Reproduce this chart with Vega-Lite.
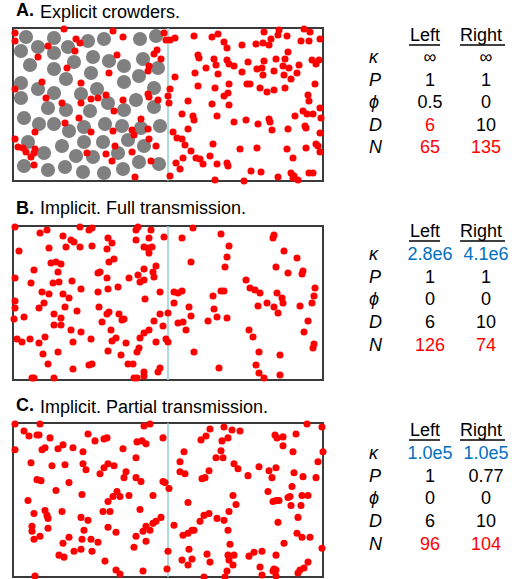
{
"$schema":"https://vega.github.io/schema/vega-lite/v6.json",
"padding":{"left":9,"top":1,"right":0,"bottom":0},
"config":{"font":"Liberation Sans","view":{"stroke":null},"title":{"color":"#000000","fontSize":18,"anchor":"start","frame":"group","offset":5,"limit":400}},
"datasets":{
"aGray":[{"x":13,"y":9},{"x":41,"y":10},{"x":75,"y":13},{"x":91,"y":11},{"x":127,"y":11},{"x":143,"y":8},{"x":8,"y":23},{"x":25,"y":19},{"x":41,"y":25},{"x":55,"y":19},{"x":80,"y":29},{"x":96,"y":33},{"x":111,"y":38},{"x":130,"y":31},{"x":145,"y":40},{"x":17,"y":37},{"x":41,"y":41},{"x":61,"y":34},{"x":53,"y":51},{"x":78,"y":45},{"x":8,"y":55},{"x":25,"y":61},{"x":41,"y":65},{"x":68,"y":66},{"x":84,"y":61},{"x":111,"y":54},{"x":126,"y":48},{"x":141,"y":60},{"x":8,"y":70},{"x":95,"y":75},{"x":123,"y":72},{"x":35,"y":80},{"x":53,"y":82},{"x":77,"y":83},{"x":111,"y":82},{"x":141,"y":79},{"x":11,"y":90},{"x":26,"y":96},{"x":41,"y":96},{"x":56,"y":103},{"x":71,"y":99},{"x":92,"y":96},{"x":109,"y":98},{"x":128,"y":100},{"x":147,"y":98},{"x":15,"y":114},{"x":49,"y":118},{"x":71,"y":114},{"x":90,"y":114},{"x":115,"y":112},{"x":131,"y":118},{"x":31,"y":125},{"x":63,"y":128},{"x":80,"y":129},{"x":105,"y":125},{"x":126,"y":134},{"x":146,"y":136},{"x":11,"y":138},{"x":35,"y":142},{"x":52,"y":139},{"x":70,"y":144},{"x":91,"y":145},{"x":110,"y":141}],
"aRed":[{"x":2,"y":5},{"x":2,"y":13},{"x":51,"y":1},{"x":100,"y":3},{"x":110,"y":9},{"x":151,"y":5},{"x":153,"y":12},{"x":157,"y":12},{"x":63,"y":11},{"x":67,"y":15},{"x":35,"y":18},{"x":62,"y":23},{"x":25,"y":29},{"x":104,"y":27},{"x":144,"y":22},{"x":141,"y":26},{"x":148,"y":31},{"x":136,"y":38},{"x":135,"y":43},{"x":54,"y":40},{"x":96,"y":45},{"x":29,"y":54},{"x":68,"y":55},{"x":2,"y":61},{"x":157,"y":61},{"x":33,"y":70},{"x":49,"y":75},{"x":68,"y":75},{"x":78,"y":71},{"x":85,"y":70},{"x":93,"y":67},{"x":110,"y":72},{"x":135,"y":66},{"x":136,"y":69},{"x":145,"y":72},{"x":155,"y":68},{"x":156,"y":75},
{"x":101,"y":83},{"x":66,"y":90},{"x":52,"y":95},{"x":22,"y":104},{"x":78,"y":104},{"x":100,"y":103},{"x":128,"y":91},{"x":119,"y":102},{"x":121,"y":107},{"x":135,"y":101},{"x":2,"y":111},{"x":5,"y":119},{"x":10,"y":120},{"x":13,"y":124},{"x":22,"y":121},{"x":21,"y":125},{"x":18,"y":129},{"x":102,"y":118},{"x":136,"y":111},{"x":143,"y":118},{"x":74,"y":125},{"x":93,"y":126},{"x":119,"y":124},{"x":99,"y":133},{"x":21,"y":137},{"x":138,"y":133},{"x":122,"y":149},{"x":157,"y":148},
{"x":162,"y":10},{"x":181,"y":8},{"x":199,"y":9},{"x":205,"y":6},{"x":211,"y":14},{"x":214,"y":20},{"x":229,"y":17},{"x":243,"y":16},{"x":250,"y":15},{"x":251,"y":4},{"x":258,"y":11},{"x":256,"y":17},{"x":266,"y":2},{"x":265,"y":7},{"x":274,"y":8},{"x":291,"y":1},{"x":297,"y":4},{"x":288,"y":13},{"x":307,"y":11},{"x":296,"y":13},
{"x":185,"y":27},{"x":186,"y":30},{"x":201,"y":31},{"x":214,"y":32},{"x":216,"y":36},{"x":221,"y":38},{"x":235,"y":34},{"x":251,"y":33},{"x":263,"y":31},{"x":272,"y":31},{"x":275,"y":24},{"x":299,"y":32},{"x":306,"y":32},{"x":303,"y":36},{"x":203,"y":37},{"x":193,"y":40},{"x":182,"y":45},{"x":205,"y":46},{"x":229,"y":44},{"x":244,"y":41},{"x":249,"y":40},{"x":250,"y":47},{"x":261,"y":43},{"x":270,"y":38},{"x":271,"y":47},{"x":276,"y":40},{"x":286,"y":37},{"x":284,"y":45},{"x":278,"y":51},
{"x":162,"y":49},{"x":185,"y":58},{"x":216,"y":56},{"x":202,"y":60},{"x":234,"y":56},{"x":237,"y":56},{"x":247,"y":60},{"x":254,"y":64},{"x":261,"y":62},{"x":272,"y":60},{"x":302,"y":56},{"x":211,"y":68},{"x":215,"y":65},{"x":295,"y":67},{"x":296,"y":73},{"x":175,"y":73},{"x":199,"y":76},{"x":216,"y":77},
{"x":169,"y":86},{"x":180,"y":88},{"x":181,"y":92},{"x":204,"y":88},{"x":221,"y":94},{"x":233,"y":92},{"x":245,"y":96},{"x":256,"y":91},{"x":257,"y":94},{"x":259,"y":102},{"x":282,"y":88},{"x":290,"y":83},{"x":294,"y":86},{"x":300,"y":86},{"x":307,"y":80},{"x":308,"y":90},{"x":292,"y":98},{"x":293,"y":100},{"x":307,"y":105},{"x":275,"y":101},{"x":175,"y":101},
{"x":160,"y":104},{"x":164,"y":110},{"x":169,"y":111},{"x":172,"y":117},{"x":178,"y":123},{"x":200,"y":116},{"x":227,"y":121},{"x":244,"y":120},{"x":274,"y":121},{"x":293,"y":120},{"x":303,"y":116},{"x":305,"y":118},{"x":307,"y":124},
{"x":170,"y":130},{"x":183,"y":130},{"x":187,"y":131},{"x":197,"y":128},{"x":190,"y":136},{"x":163,"y":135},{"x":167,"y":141},{"x":204,"y":136},{"x":214,"y":135},{"x":215,"y":138},{"x":280,"y":130},{"x":238,"y":143},{"x":248,"y":144},{"x":278,"y":145},{"x":281,"y":148},{"x":280,"y":150},{"x":296,"y":145},{"x":300,"y":145},{"x":265,"y":149},{"x":202,"y":152},{"x":231,"y":153},{"x":285,"y":152}],
"bRed":[{"x":2,"y":1},{"x":27,"y":7},{"x":34,"y":4},{"x":67,"y":1},{"x":76,"y":4},{"x":79,"y":2},{"x":123,"y":4},{"x":125,"y":1},{"x":138,"y":4},{"x":151,"y":11},{"x":6,"y":25},{"x":36,"y":22},{"x":50,"y":10},{"x":53,"y":21},{"x":58,"y":14},{"x":61,"y":16},{"x":67,"y":21},{"x":79,"y":20},{"x":95,"y":12},{"x":99,"y":17},{"x":94,"y":23},{"x":123,"y":14},{"x":136,"y":12},{"x":131,"y":21},{"x":135,"y":22},{"x":139,"y":21},{"x":136,"y":27},{"x":38,"y":37},{"x":43,"y":36},{"x":48,"y":38},{"x":21,"y":44},{"x":45,"y":46},{"x":101,"y":33},{"x":96,"y":36},{"x":85,"y":47},{"x":87,"y":46},{"x":94,"y":52},{"x":2,"y":52},{"x":18,"y":57},{"x":40,"y":57},{"x":46,"y":56},{"x":59,"y":55},{"x":68,"y":63},{"x":116,"y":52},{"x":125,"y":49},{"x":131,"y":43},{"x":143,"y":40},{"x":140,"y":46},{"x":141,"y":51},{"x":127,"y":56},{"x":131,"y":54},{"x":29,"y":66},{"x":36,"y":68},{"x":50,"y":68},{"x":56,"y":72},{"x":85,"y":66},{"x":95,"y":63},{"x":105,"y":61},{"x":147,"y":66},{"x":2,"y":75},{"x":2,"y":82},{"x":31,"y":77},{"x":26,"y":82},{"x":52,"y":81},{"x":64,"y":85},{"x":86,"y":81},{"x":132,"y":73},{"x":1,"y":93},{"x":11,"y":91},{"x":41,"y":88},{"x":48,"y":92},{"x":41,"y":99},{"x":48,"y":99},{"x":94,"y":88},{"x":96,"y":86},{"x":89,"y":96},{"x":106,"y":88},{"x":109,"y":94},{"x":111,"y":93},{"x":155,"y":87},{"x":147,"y":88},{"x":141,"y":95},{"x":58,"y":104},{"x":68,"y":106},{"x":98,"y":104},{"x":136,"y":104},{"x":131,"y":107},{"x":127,"y":112},{"x":150,"y":100},{"x":4,"y":113},{"x":9,"y":116},{"x":17,"y":113},{"x":32,"y":111},{"x":26,"y":117},{"x":60,"y":116},{"x":78,"y":113},{"x":99,"y":115},{"x":103,"y":112},{"x":113,"y":117},{"x":143,"y":116},{"x":153,"y":113},{"x":155,"y":116},{"x":95,"y":125},{"x":30,"y":128},{"x":45,"y":126},{"x":108,"y":129},{"x":124,"y":126},{"x":126,"y":122},{"x":35,"y":138},{"x":76,"y":139},{"x":79,"y":138},{"x":60,"y":143},{"x":115,"y":138},{"x":120,"y":138},{"x":145,"y":146},{"x":147,"y":142},{"x":131,"y":146},{"x":131,"y":150},{"x":19,"y":152},{"x":21,"y":152},{"x":41,"y":152},{"x":121,"y":152},{"x":124,"y":152},
{"x":180,"y":2},{"x":169,"y":12},{"x":208,"y":8},{"x":216,"y":20},{"x":214,"y":31},{"x":212,"y":41},{"x":178,"y":36},{"x":261,"y":9},{"x":260,"y":12},{"x":271,"y":25},{"x":284,"y":32},{"x":263,"y":41},{"x":275,"y":47},{"x":290,"y":45},{"x":289,"y":48},{"x":233,"y":54},{"x":237,"y":62},{"x":242,"y":64},{"x":247,"y":67},{"x":302,"y":62},{"x":301,"y":70},{"x":299,"y":77},{"x":287,"y":80},{"x":264,"y":67},{"x":269,"y":72},{"x":270,"y":77},{"x":261,"y":81},{"x":265,"y":87},{"x":254,"y":77},{"x":245,"y":80},{"x":211,"y":65},{"x":208,"y":65},{"x":200,"y":70},{"x":201,"y":83},{"x":204,"y":91},{"x":214,"y":92},{"x":195,"y":95},{"x":161,"y":66},{"x":165,"y":67},{"x":169,"y":65},{"x":161,"y":77},{"x":176,"y":81},{"x":178,"y":90},{"x":165,"y":97},{"x":170,"y":96},{"x":173,"y":104},{"x":236,"y":104},{"x":240,"y":111},{"x":295,"y":95},{"x":291,"y":106},{"x":301,"y":118},{"x":300,"y":122},{"x":181,"y":126},{"x":246,"y":126},{"x":267,"y":129},{"x":206,"y":142},{"x":243,"y":139},{"x":246,"y":147},{"x":251,"y":152},{"x":267,"y":149}],
"cRed":[{"x":2,"y":1},{"x":27,"y":1},{"x":11,"y":8},{"x":16,"y":13},{"x":24,"y":12},{"x":26,"y":12},{"x":37,"y":15},{"x":2,"y":27},{"x":29,"y":27},{"x":32,"y":25},{"x":45,"y":26},{"x":50,"y":22},{"x":60,"y":25},{"x":70,"y":29},{"x":75,"y":11},{"x":82,"y":18},{"x":91,"y":16},{"x":94,"y":15},{"x":131,"y":3},{"x":137,"y":1},{"x":124,"y":19},{"x":129,"y":18},{"x":133,"y":21},{"x":150,"y":15},{"x":110,"y":26},{"x":123,"y":35},{"x":18,"y":40},{"x":39,"y":43},{"x":52,"y":42},{"x":70,"y":41},{"x":73,"y":47},{"x":87,"y":51},{"x":91,"y":45},{"x":95,"y":41},{"x":101,"y":43},{"x":113,"y":49},{"x":111,"y":55},{"x":123,"y":55},{"x":128,"y":59},{"x":24,"y":57},{"x":28,"y":58},{"x":56,"y":60},{"x":43,"y":68},{"x":69,"y":72},{"x":104,"y":69},{"x":100,"y":74},{"x":95,"y":79},{"x":107,"y":74},{"x":116,"y":73},{"x":140,"y":73},{"x":150,"y":59},{"x":152,"y":60},{"x":15,"y":78},{"x":32,"y":88},{"x":34,"y":93},{"x":21,"y":91},{"x":49,"y":89},{"x":90,"y":89},{"x":97,"y":89},{"x":127,"y":87},{"x":35,"y":96},{"x":68,"y":95},{"x":75,"y":98},{"x":19,"y":104},{"x":19,"y":109},{"x":35,"y":106},{"x":21,"y":117},{"x":27,"y":114},{"x":71,"y":108},{"x":95,"y":105},{"x":103,"y":110},{"x":130,"y":109},{"x":133,"y":104},{"x":140,"y":101},{"x":143,"y":99},{"x":148,"y":95},{"x":137,"y":108},{"x":123,"y":114},{"x":133,"y":119},{"x":50,"y":121},{"x":56,"y":115},{"x":69,"y":117},{"x":78,"y":117},{"x":85,"y":120},{"x":61,"y":129},{"x":68,"y":127},{"x":79,"y":129},{"x":121,"y":125},{"x":46,"y":133},{"x":51,"y":135},{"x":92,"y":139},{"x":103,"y":148},{"x":107,"y":152},{"x":130,"y":149},{"x":154,"y":147},{"x":155,"y":129},{"x":22,"y":154},
{"x":197,"y":6},{"x":193,"y":13},{"x":188,"y":17},{"x":211,"y":4},{"x":219,"y":7},{"x":227,"y":8},{"x":215,"y":15},{"x":209,"y":18},{"x":262,"y":12},{"x":264,"y":15},{"x":270,"y":14},{"x":283,"y":11},{"x":294,"y":1},{"x":309,"y":4},{"x":270,"y":23},{"x":280,"y":29},{"x":310,"y":29},{"x":305,"y":39},{"x":171,"y":29},{"x":208,"y":28},{"x":203,"y":35},{"x":210,"y":35},{"x":167,"y":39},{"x":167,"y":49},{"x":172,"y":51},{"x":196,"y":48},{"x":189,"y":56},{"x":192,"y":55},{"x":221,"y":41},{"x":225,"y":46},{"x":235,"y":53},{"x":246,"y":44},{"x":256,"y":48},{"x":263,"y":45},{"x":259,"y":55},{"x":281,"y":50},{"x":290,"y":54},{"x":303,"y":55},{"x":279,"y":64},{"x":275,"y":75},{"x":277,"y":74},{"x":289,"y":73},{"x":295,"y":73},{"x":278,"y":83},{"x":288,"y":83},{"x":255,"y":69},{"x":260,"y":79},{"x":263,"y":78},{"x":266,"y":78},{"x":156,"y":66},{"x":175,"y":80},{"x":220,"y":73},{"x":223,"y":82},{"x":191,"y":93},{"x":196,"y":91},{"x":187,"y":99},{"x":204,"y":96},{"x":211,"y":98},{"x":216,"y":89},{"x":161,"y":103},{"x":170,"y":113},{"x":175,"y":111},{"x":179,"y":108},{"x":181,"y":108},{"x":215,"y":108},{"x":265,"y":100},{"x":285,"y":95},{"x":284,"y":111},{"x":289,"y":115},{"x":297,"y":115},{"x":271,"y":121},{"x":309,"y":126},{"x":217,"y":122},{"x":176,"y":127},{"x":194,"y":132},{"x":169,"y":138},{"x":179,"y":137},{"x":175,"y":143},{"x":197,"y":140},{"x":215,"y":133},{"x":221,"y":133},{"x":216,"y":138},{"x":220,"y":143},{"x":236,"y":134},{"x":241,"y":130},{"x":249,"y":129},{"x":263,"y":133},{"x":295,"y":140},{"x":247,"y":145},{"x":261,"y":147},{"x":263,"y":148},{"x":260,"y":149},{"x":287,"y":148},{"x":291,"y":146},{"x":191,"y":155},{"x":214,"y":149},{"x":212,"y":155},{"x":249,"y":153},{"x":263,"y":154},{"x":285,"y":151}],
"tabA":[{"param":"κ","side":"Left","value":"∞","status":"plain"},{"param":"κ","side":"Right","value":"∞","status":"plain"},{"param":"P","side":"Left","value":"1","status":"plain"},{"param":"P","side":"Right","value":"1","status":"plain"},{"param":"ϕ","side":"Left","value":"0.5","status":"plain"},{"param":"ϕ","side":"Right","value":"0","status":"plain"},{"param":"D","side":"Left","value":"6","status":"changed"},{"param":"D","side":"Right","value":"10","status":"plain"},{"param":"N","side":"Left","value":"65","status":"changed"},{"param":"N","side":"Right","value":"135","status":"changed"}],
"tabB":[{"param":"κ","side":"Left","value":"2.8e6","status":"kappa"},{"param":"κ","side":"Right","value":"4.1e6","status":"kappa"},{"param":"P","side":"Left","value":"1","status":"plain"},{"param":"P","side":"Right","value":"1","status":"plain"},{"param":"ϕ","side":"Left","value":"0","status":"plain"},{"param":"ϕ","side":"Right","value":"0","status":"plain"},{"param":"D","side":"Left","value":"6","status":"plain"},{"param":"D","side":"Right","value":"10","status":"plain"},{"param":"N","side":"Left","value":"126","status":"changed"},{"param":"N","side":"Right","value":"74","status":"changed"}],
"tabC":[{"param":"κ","side":"Left","value":"1.0e5","status":"kappa"},{"param":"κ","side":"Right","value":"1.0e5","status":"kappa"},{"param":"P","side":"Left","value":"1","status":"plain"},{"param":"P","side":"Right","value":"0.77","status":"plain"},{"param":"ϕ","side":"Left","value":"0","status":"plain"},{"param":"ϕ","side":"Right","value":"0","status":"plain"},{"param":"D","side":"Left","value":"6","status":"plain"},{"param":"D","side":"Right","value":"10","status":"plain"},{"param":"N","side":"Left","value":"96","status":"changed"},{"param":"N","side":"Right","value":"104","status":"changed"}],
"heads":[{"side":"Left"},{"side":"Right"}]
},
"spacing":13,
"vconcat":[
{"spacing":20,"bounds":"flush",
 "hconcat":[
  {"width":310,"height":153,"view":{"stroke":"#3a3a3a","strokeWidth":2},
   "title":{"text":"A.","fontWeight":"bold","dx":3},
   "layer":[
    {"data":{"name":"aGray"},"mark":{"type":"circle","size":200,"color":"#808080","opacity":1},"encoding":{"x":{"field":"x","type":"quantitative","scale":{"domain":[0,310],"nice":false,"zero":false},"axis":null},"y":{"field":"y","type":"quantitative","scale":{"domain":[0,153],"nice":false,"reverse":true},"axis":null}}},
    {"data":{"values":[{}]},"mark":{"type":"rule","color":"#8fcfcf","strokeWidth":1.5},"encoding":{"x":{"datum":155,"type":"quantitative"}}},
    {"data":{"name":"aRed"},"mark":{"type":"circle","size":50,"color":"#ff0000","opacity":1},"encoding":{"x":{"field":"x","type":"quantitative"},"y":{"field":"y","type":"quantitative"}}}
   ]},
  {"width":175,"height":153,
   "title":{"text":"Explicit crowders.","fontWeight":"normal","dx":-303},
   "layer":[
    {"data":{"name":"tabA"},"mark":{"type":"text","fontSize":18},"encoding":{"x":{"field":"side","type":"nominal","scale":{"type":"point","domain":["label","Left","Right"],"range":[31,143],"padding":0},"axis":null},"y":{"field":"param","type":"nominal","scale":{"type":"point","domain":["head","κ","P","ϕ","D","N"],"range":[8,120],"padding":0},"axis":null},"text":{"field":"value"},"color":{"field":"status","type":"nominal","scale":{"domain":["plain","changed","kappa"],"range":["#000000","#ff0000","#0070c0"]},"legend":null}}},
    {"data":{"name":"tabA"},"transform":[{"filter":"datum.side === 'Left'"}],"mark":{"type":"text","fontSize":18,"fontStyle":"italic","align":"left","dx":-5,"color":"#000"},"encoding":{"x":{"datum":"label","type":"nominal"},"y":{"field":"param","type":"nominal"},"text":{"field":"param"}}},
    {"data":{"name":"heads"},"mark":{"type":"text","fontSize":18,"dx":-5,"color":"#000"},"encoding":{"x":{"field":"side","type":"nominal"},"y":{"datum":"head","type":"nominal"},"text":{"field":"side"}}},
    {"data":{"name":"heads"},"transform":[{"filter":"datum.side === 'Left'"}],"mark":{"type":"rule","color":"#000","strokeWidth":1.5,"xOffset":-21,"x2Offset":10,"yOffset":9},"encoding":{"x":{"field":"side","type":"nominal"},"x2":{"field":"side"},"y":{"datum":"head","type":"nominal"}}},
    {"data":{"name":"heads"},"transform":[{"filter":"datum.side === 'Right'"}],"mark":{"type":"rule","color":"#000","strokeWidth":1.5,"xOffset":-26,"x2Offset":19,"yOffset":9},"encoding":{"x":{"field":"side","type":"nominal"},"x2":{"field":"side"},"y":{"datum":"head","type":"nominal"}}}
   ]}
 ]},
{"spacing":20,"bounds":"flush",
 "hconcat":[
  {"width":310,"height":154,"view":{"stroke":"#3a3a3a","strokeWidth":2},
   "title":{"text":"B.","fontWeight":"bold","dx":3},
   "layer":[
    {"data":{"values":[{}]},"mark":{"type":"rule","color":"#8fcfcf","strokeWidth":1.5},"encoding":{"x":{"datum":155,"type":"quantitative","scale":{"domain":[0,310],"nice":false,"zero":false},"axis":null}}},
    {"data":{"name":"bRed"},"mark":{"type":"circle","size":50,"color":"#ff0000","opacity":1},"encoding":{"x":{"field":"x","type":"quantitative"},"y":{"field":"y","type":"quantitative","scale":{"domain":[0,154],"nice":false,"reverse":true},"axis":null}}}
   ]},
  {"width":175,"height":154,
   "title":{"text":"Implicit. Full transmission.","fontWeight":"normal","dx":-303},
   "layer":[
    {"data":{"name":"tabB"},"mark":{"type":"text","fontSize":18},"encoding":{"x":{"field":"side","type":"nominal","scale":{"type":"point","domain":["label","Left","Right"],"range":[31,143],"padding":0},"axis":null},"y":{"field":"param","type":"nominal","scale":{"type":"point","domain":["head","κ","P","ϕ","D","N"],"range":[6,120],"padding":0},"axis":null},"text":{"field":"value"},"color":{"field":"status","type":"nominal","scale":{"domain":["plain","changed","kappa"],"range":["#000000","#ff0000","#0070c0"]},"legend":null}}},
    {"data":{"name":"tabB"},"transform":[{"filter":"datum.side === 'Left'"}],"mark":{"type":"text","fontSize":18,"fontStyle":"italic","align":"left","dx":-5,"color":"#000"},"encoding":{"x":{"datum":"label","type":"nominal"},"y":{"field":"param","type":"nominal"},"text":{"field":"param"}}},
    {"data":{"name":"heads"},"mark":{"type":"text","fontSize":18,"dx":-5,"color":"#000"},"encoding":{"x":{"field":"side","type":"nominal"},"y":{"datum":"head","type":"nominal"},"text":{"field":"side"}}},
    {"data":{"name":"heads"},"transform":[{"filter":"datum.side === 'Left'"}],"mark":{"type":"rule","color":"#000","strokeWidth":1.5,"xOffset":-21,"x2Offset":10,"yOffset":9},"encoding":{"x":{"field":"side","type":"nominal"},"x2":{"field":"side"},"y":{"datum":"head","type":"nominal"}}},
    {"data":{"name":"heads"},"transform":[{"filter":"datum.side === 'Right'"}],"mark":{"type":"rule","color":"#000","strokeWidth":1.5,"xOffset":-26,"x2Offset":19,"yOffset":9},"encoding":{"x":{"field":"side","type":"nominal"},"x2":{"field":"side"},"y":{"datum":"head","type":"nominal"}}}
   ]}
 ]},
{"spacing":20,"bounds":"flush",
 "hconcat":[
  {"width":310,"height":154,"view":{"stroke":"#3a3a3a","strokeWidth":2},
   "title":{"text":"C.","fontWeight":"bold","dx":3},
   "layer":[
    {"data":{"values":[{}]},"mark":{"type":"rule","color":"#8fcfcf","strokeWidth":1.5},"encoding":{"x":{"datum":155,"type":"quantitative","scale":{"domain":[0,310],"nice":false,"zero":false},"axis":null}}},
    {"data":{"name":"cRed"},"mark":{"type":"circle","size":50,"color":"#ff0000","opacity":1},"encoding":{"x":{"field":"x","type":"quantitative"},"y":{"field":"y","type":"quantitative","scale":{"domain":[0,155],"nice":false,"reverse":true},"axis":null}}}
   ]},
  {"width":175,"height":154,
   "title":{"text":"Implicit. Partial transmission.","fontWeight":"normal","dx":-303},
   "layer":[
    {"data":{"name":"tabC"},"mark":{"type":"text","fontSize":18},"encoding":{"x":{"field":"side","type":"nominal","scale":{"type":"point","domain":["label","Left","Right"],"range":[31,143],"padding":0},"axis":null},"y":{"field":"param","type":"nominal","scale":{"type":"point","domain":["head","κ","P","ϕ","D","N"],"range":[8,122],"padding":0},"axis":null},"text":{"field":"value"},"color":{"field":"status","type":"nominal","scale":{"domain":["plain","changed","kappa"],"range":["#000000","#ff0000","#0070c0"]},"legend":null}}},
    {"data":{"name":"tabC"},"transform":[{"filter":"datum.side === 'Left'"}],"mark":{"type":"text","fontSize":18,"fontStyle":"italic","align":"left","dx":-5,"color":"#000"},"encoding":{"x":{"datum":"label","type":"nominal"},"y":{"field":"param","type":"nominal"},"text":{"field":"param"}}},
    {"data":{"name":"heads"},"mark":{"type":"text","fontSize":18,"dx":-5,"color":"#000"},"encoding":{"x":{"field":"side","type":"nominal"},"y":{"datum":"head","type":"nominal"},"text":{"field":"side"}}},
    {"data":{"name":"heads"},"transform":[{"filter":"datum.side === 'Left'"}],"mark":{"type":"rule","color":"#000","strokeWidth":1.5,"xOffset":-21,"x2Offset":10,"yOffset":9},"encoding":{"x":{"field":"side","type":"nominal"},"x2":{"field":"side"},"y":{"datum":"head","type":"nominal"}}},
    {"data":{"name":"heads"},"transform":[{"filter":"datum.side === 'Right'"}],"mark":{"type":"rule","color":"#000","strokeWidth":1.5,"xOffset":-26,"x2Offset":19,"yOffset":9},"encoding":{"x":{"field":"side","type":"nominal"},"x2":{"field":"side"},"y":{"datum":"head","type":"nominal"}}}
   ]}
 ]}
]
}
